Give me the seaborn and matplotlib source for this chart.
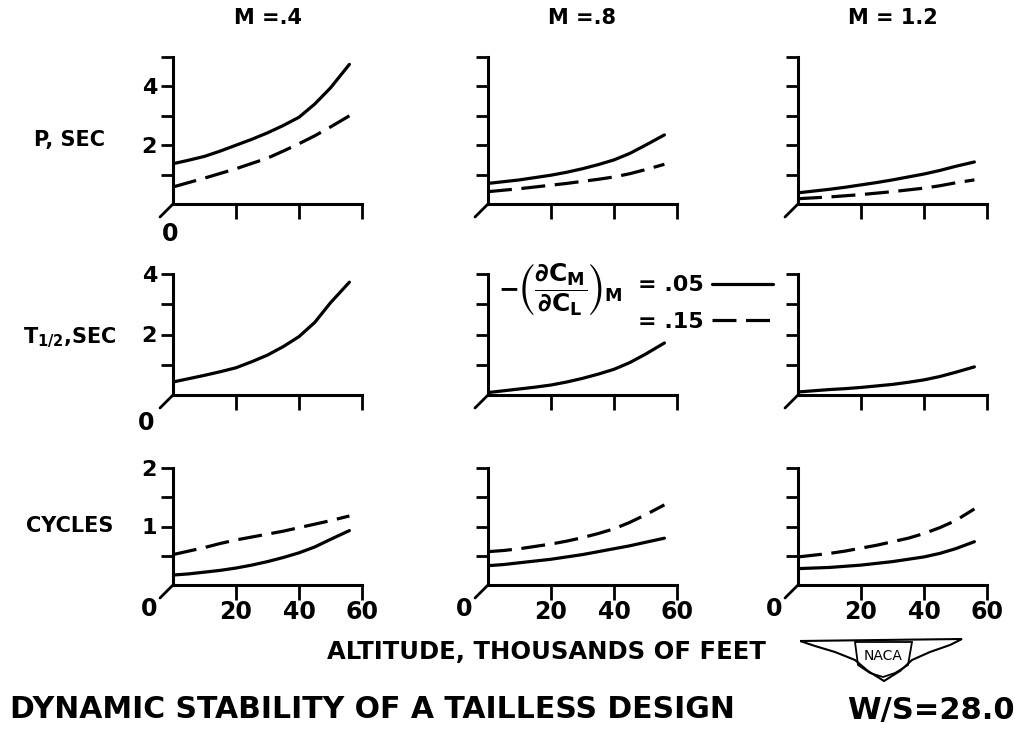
"""Dynamic stability of a tailless design (NACA chart) - recreated with seaborn."""

import matplotlib.pyplot as plt
import pandas as pd
import seaborn as sns
from matplotlib.lines import Line2D
from matplotlib.patches import Polygon

# ─── Data ────────────────────────────────────────────────────────────────────

ALTITUDE = [0, 5, 10, 15, 20, 25, 30, 35, 40, 45, 50, 56]   # thousands of feet
MACH = ["M =.4", "M =.8", "M = 1.2"]
ROWS = ["P, SEC", "T$_{1/2}$,SEC", "CYCLES"]

# Period P, sec   (solid: dCm/dCL = .05, dashed: = .15)
P_SOLID = [
    [1.37, 1.49, 1.62, 1.80, 2.00, 2.20, 2.42, 2.67, 2.95, 3.40, 3.95, 4.75],
    [0.70, 0.76, 0.82, 0.90, 0.98, 1.08, 1.20, 1.34, 1.50, 1.72, 2.00, 2.35],
    [0.38, 0.44, 0.50, 0.57, 0.65, 0.73, 0.82, 0.92, 1.02, 1.14, 1.28, 1.43],
]
P_DASHED = [
    [0.58, 0.73, 0.88, 1.04, 1.20, 1.38, 1.56, 1.80, 2.05, 2.32, 2.62, 3.00],
    [0.42, 0.47, 0.52, 0.58, 0.64, 0.70, 0.77, 0.84, 0.92, 1.03, 1.17, 1.35],
    [0.18, 0.21, 0.24, 0.28, 0.32, 0.37, 0.42, 0.48, 0.54, 0.62, 0.72, 0.82],
]

# Time to damp to half amplitude, sec
T_HALF = [
    [0.43, 0.54, 0.65, 0.77, 0.90, 1.10, 1.32, 1.60, 1.93, 2.40, 3.05, 3.73],
    [0.08, 0.14, 0.20, 0.26, 0.33, 0.43, 0.55, 0.69, 0.85, 1.07, 1.35, 1.72],
    [0.10, 0.14, 0.18, 0.21, 0.25, 0.30, 0.35, 0.42, 0.50, 0.61, 0.75, 0.93],
]

# Cycles to damp to half amplitude
CYC_SOLID = [
    [0.17, 0.19, 0.22, 0.25, 0.29, 0.34, 0.40, 0.47, 0.55, 0.65, 0.78, 0.93],
    [0.33, 0.35, 0.38, 0.41, 0.44, 0.48, 0.52, 0.57, 0.62, 0.67, 0.73, 0.80],
    [0.28, 0.29, 0.30, 0.32, 0.34, 0.37, 0.40, 0.44, 0.48, 0.54, 0.62, 0.74],
]
CYC_DASHED = [
    [0.52, 0.58, 0.64, 0.71, 0.77, 0.82, 0.87, 0.92, 0.98, 1.04, 1.10, 1.18],
    [0.57, 0.59, 0.62, 0.66, 0.70, 0.75, 0.81, 0.88, 0.96, 1.07, 1.20, 1.37],
    [0.48, 0.51, 0.54, 0.58, 0.63, 0.68, 0.74, 0.80, 0.88, 0.98, 1.10, 1.30],
]

Y_MAX = [5, 4, 2]
Y_TICKS = [[1, 2, 3, 4, 5], [1, 2, 3, 4], [0.5, 1, 1.5, 2]]
Y_TICKLABELS = [["", "2", "", "4", ""], ["", "2", "", "4"], ["", "1", "", "2"]]
X_TICKS = [20, 40, 60]


def build_frame():
    rows = []
    series = [
        (0, ".05", P_SOLID), (0, ".15", P_DASHED),
        (1, ".05", T_HALF),
        (2, ".05", CYC_SOLID), (2, ".15", CYC_DASHED),
    ]
    for row, slope, table in series:
        for col, values in enumerate(table):
            for alt, v in zip(ALTITUDE, values):
                rows.append({"row": row, "col": col, "slope": slope,
                             "altitude": alt, "value": v})
    return pd.DataFrame(rows)


# ─── Style ───────────────────────────────────────────────────────────────────

sns.set_theme(style="ticks")
plt.rcParams.update({
    "font.family": ["DejaVu Sans"],
    "font.weight": "bold",
    "mathtext.default": "regular",
    "axes.linewidth": 2.2,
    "axes.edgecolor": "black",
    "xtick.major.width": 2.0,
    "ytick.major.width": 2.0,
    "xtick.major.size": 11,
    "ytick.major.size": 8.5,
    "xtick.direction": "out",
    "ytick.direction": "out",
    "xtick.color": "black",
    "ytick.color": "black",
    "text.color": "black",
})

W, H = 1023, 731
LINE_W = 2.3
DASHES = {".05": "", ".15": (7.5, 3)}

df = build_frame()
fig = plt.figure(figsize=(W / 100, H / 100), dpi=100)

LEFTS = [173, 488, 798]          # px of the y axis
BOTTOMS = [204, 395, 585]        # px of the x axis (from top)
HEIGHTS = [147, 121, 117]
AX_W = 189

ZERO_OFFSETS = {0: (-3, -30), 1: (-27, -28), 2: (-24, -24)}

for r in range(3):
    for c in range(3):
        ax = fig.add_axes([LEFTS[c] / W, 1 - BOTTOMS[r] / H, AX_W / W, HEIGHTS[r] / H])
        sub = df[(df["row"] == r) & (df["col"] == c)]
        sns.lineplot(data=sub, x="altitude", y="value", style="slope",
                     dashes=DASHES, color="black", linewidth=LINE_W,
                     legend=False, ax=ax)
        ax.set_xlim(0, 60)
        ax.set_ylim(0, Y_MAX[r])
        ax.set_xticks(X_TICKS)
        ax.set_yticks(Y_TICKS[r])
        ax.set_xticklabels([str(t) for t in X_TICKS] if r == 2 else [""] * 3,
                           fontsize=17, fontweight="bold")
        ax.set_yticklabels(Y_TICKLABELS[r] if c == 0 else [""] * len(Y_TICKS[r]),
                           fontsize=16, fontweight="bold")
        ax.tick_params(axis="x", pad=0)
        ax.tick_params(axis="y", pad=3)
        ax.set_xlabel("")
        ax.set_ylabel("")
        ax.patch.set_alpha(0)
        sns.despine(ax=ax)

        # little diagonal stroke at the origin
        ax.annotate("", xy=(0, 0), xycoords="axes fraction",
                    xytext=(-13, -13), textcoords="offset pixels",
                    arrowprops=dict(arrowstyle="-", lw=2.0, color="black",
                                    shrinkA=0, shrinkB=0))
        if c == 0 or r == 2:
            ax.annotate("0", xy=(0, 0), xycoords="axes fraction",
                        xytext=ZERO_OFFSETS[r], textcoords="offset pixels",
                        ha="center", va="center", fontsize=17)

# column titles
for c, label in enumerate(MACH):
    fig.text((LEFTS[c] + AX_W / 2) / W, 1 - 18 / H, label,
             ha="center", va="center", fontsize=15)

# row labels
for r, (label, y) in enumerate(zip(ROWS, [140, 338, 526])):
    fig.text(70 / W, 1 - y / H, label, ha="center", va="center", fontsize=15)

# key in the middle panel
fig.text(498 / W, 1 - 289 / H,
         r"$-\left(\dfrac{\partial C_M}{\partial C_L}\right)_M$",
         ha="left", va="center", fontsize=18)
fig.text(638 / W, 1 - 285 / H, "= .05", ha="left", va="center", fontsize=16)
fig.text(638 / W, 1 - 322 / H, "= .15", ha="left", va="center", fontsize=16)
fig.add_artist(Line2D([712 / W, 773 / W], [1 - 284 / H, 1 - 284 / H],
                      color="black", lw=LINE_W))
fig.add_artist(Line2D([712 / W, 773 / W], [1 - 320 / H, 1 - 320 / H],
                      color="black", lw=LINE_W, dashes=(7.5, 3)))

fig.text(546 / W, 1 - 652 / H, "ALTITUDE, THOUSANDS OF FEET",
         ha="center", va="center", fontsize=17.5)

# NACA wing badge
logo = fig.add_axes([800 / W, 1 - 685 / H, 165 / W, 50 / H])
logo.set_xlim(0, 165)
logo.set_ylim(50, 0)
logo.axis("off")
wing = [(0, 6), (162, 4), (150, 10), (130, 17), (112, 25), (100, 36), (84, 46),
        (68, 36), (55, 25), (35, 17), (15, 11)]
logo.add_patch(Polygon(wing, closed=True, fill=False, lw=1.5, edgecolor="black"))
shield = [(55, 7), (112, 7), (108, 30), (95, 38), (83, 42), (70, 38), (58, 30)]
logo.add_patch(Polygon(shield, closed=True, fill=False, lw=1.3, edgecolor="black"))
logo.text(83, 21, "NACA", ha="center", va="center", fontsize=10, fontweight="normal")

# figure caption
fig.text(10 / W, 1 - 710 / H, "DYNAMIC STABILITY OF A TAILLESS DESIGN",
         ha="left", va="center", fontsize=21.5)
fig.text(1015 / W, 1 - 710 / H, "W/S=28.0",
         ha="right", va="center", fontsize=22)

fig.savefig("out.png", dpi=100)
plt.close(fig)
